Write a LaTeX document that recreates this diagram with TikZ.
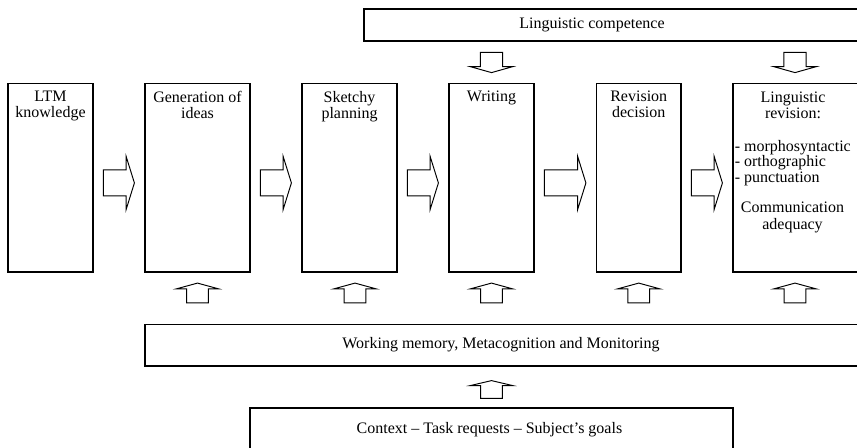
\documentclass[tikz,border=0pt]{standalone}
\usepackage{fontspec}
\setmainfont{Liberation Serif}
\usepackage{tikz}
\usetikzlibrary{calc,fit}

\begin{document}
\begin{tikzpicture}[x=0.625pt,y=-0.625pt,
  caja/.style={draw,line width=0.75pt,inner sep=0pt},
  flecha/.style={draw,line width=0.6pt,line join=miter,fill=white},
  texto/.style={font=\fontsize{10}{10.1}\selectfont,align=center,inner sep=0pt}]
  \clip (0,0) rectangle (857,447);

  % Cajas del proceso
  \foreach \nombre/\xa/\xb in {ltm/8/93,gen/145/250,sketch/302/397,writ/449/534,revd/596.5/681,lrev/733/859}
    \node[caja,fit={(\xa,83.5) (\xb,272)}] (\nombre) {};

  % Cajas horizontales
  \node[caja,fit={(364,9) (870,41)}] (lc) {};
  \node[caja,fit={(145,324.5) (870,366)}] (wm) {};
  \node[caja,fit={(250,408) (733,455)}] (ctx) {};

  % Textos
  \node[texto,anchor=north] (ltmtxt) at ($(ltm.north)+(0,7.8)$) {LTM\\knowledge};
  \node[texto,anchor=north] (gentxt) at ($(gen.north)+(0,7.8)$) {Generation of\\ideas};
  \node[texto,anchor=north] (sketchtxt) at ($(sketch.north)+(0,7.8)$) {Sketchy\\planning};
  \node[texto,anchor=north] (writtxt) at ($(writ.north)+(0,7.8)$) {Writing};
  \node[texto,anchor=north] (revdtxt) at ($(revd.north)+(0,7.8)$) {Revision\\decision};
  \node[texto,anchor=north] (lrevtxt) at (793,91.3) {Linguistic\\revision:};
  \node[texto,anchor=north west,align=left,font=\fontsize{10}{9.6}\selectfont] (lrevlist) at (734.5,140) {- morphosyntactic\\- orthographic\\- punctuation};
  \node[texto,anchor=north] (lrevcom) at (792.5,202) {Communication\\adequacy};
  \node[texto] (lctxt) at (592,25) {Linguistic competence};
  \node[texto] (wmtxt) at (501,345) {Working memory, Metacognition and Monitoring};
  \node[texto] (ctxtxt) at (489.5,430) {Context -- Task requests -- Subject's goals};

  % Flechas entre cajas
  \foreach \a/\b in {ltm/gen,gen/sketch,sketch/writ,writ/revd,revd/lrev}
    \draw[flecha] ($(\a.east)+(9.7,-7.8)$) -- ($(\b.west)+(-18.3,-7.8)$)
      -- ($(\b.west)+(-18.3,-21.5)$) -- ($(\b.west)+(-10,5.2)$)
      -- ($(\b.west)+(-18.3,31.9)$) -- ($(\b.west)+(-18.3,18.2)$)
      -- ($(\a.east)+(9.7,18.2)$) -- cycle;

  % Flechas desde la memoria de trabajo
  \foreach \c/\d in {gen/0,sketch/5.5,writ/0,revd/0,lrev/-1}
    \draw[flecha] ($(\c.south)+(\d,10.5)$) -- ++(21.3,5.8) -- ++(-10.5,0)
      -- ($(\c.south |- wm.north)+(\d+10.8,-21)$) -- ++(-21.6,0)
      -- ($(\c.south)+(\d-10.8,16.3)$) -- ++(-10.5,0) -- cycle;

  % Flechas desde la competencia lingüística
  \foreach \c/\d in {writ/0,lrev/-1}
    \draw[flecha] ($(\c.north |- lc.south)+(\d-11.2,10.7)$) -- ++(22.4,0)
      -- ($(\c.north)+(\d+11.2,-16.3)$) -- ++(10.2,0)
      -- ($(\c.north)+(\d,-10.3)$) -- ($(\c.north)+(\d-21.4,-16.3)$)
      -- ++(10.2,0) -- cycle;

  % Contexto
  \draw[flecha] ($(writ.south |- wm.south)+(0,14)$) -- ++(21.3,5) -- ++(-10.5,0)
    -- ($(writ.south |- ctx.north)+(10.8,-9)$) -- ++(-21.6,0)
    -- ($(writ.south |- wm.south)+(-10.8,19)$) -- ++(-10.5,0) -- cycle;
\end{tikzpicture}
\end{document}
